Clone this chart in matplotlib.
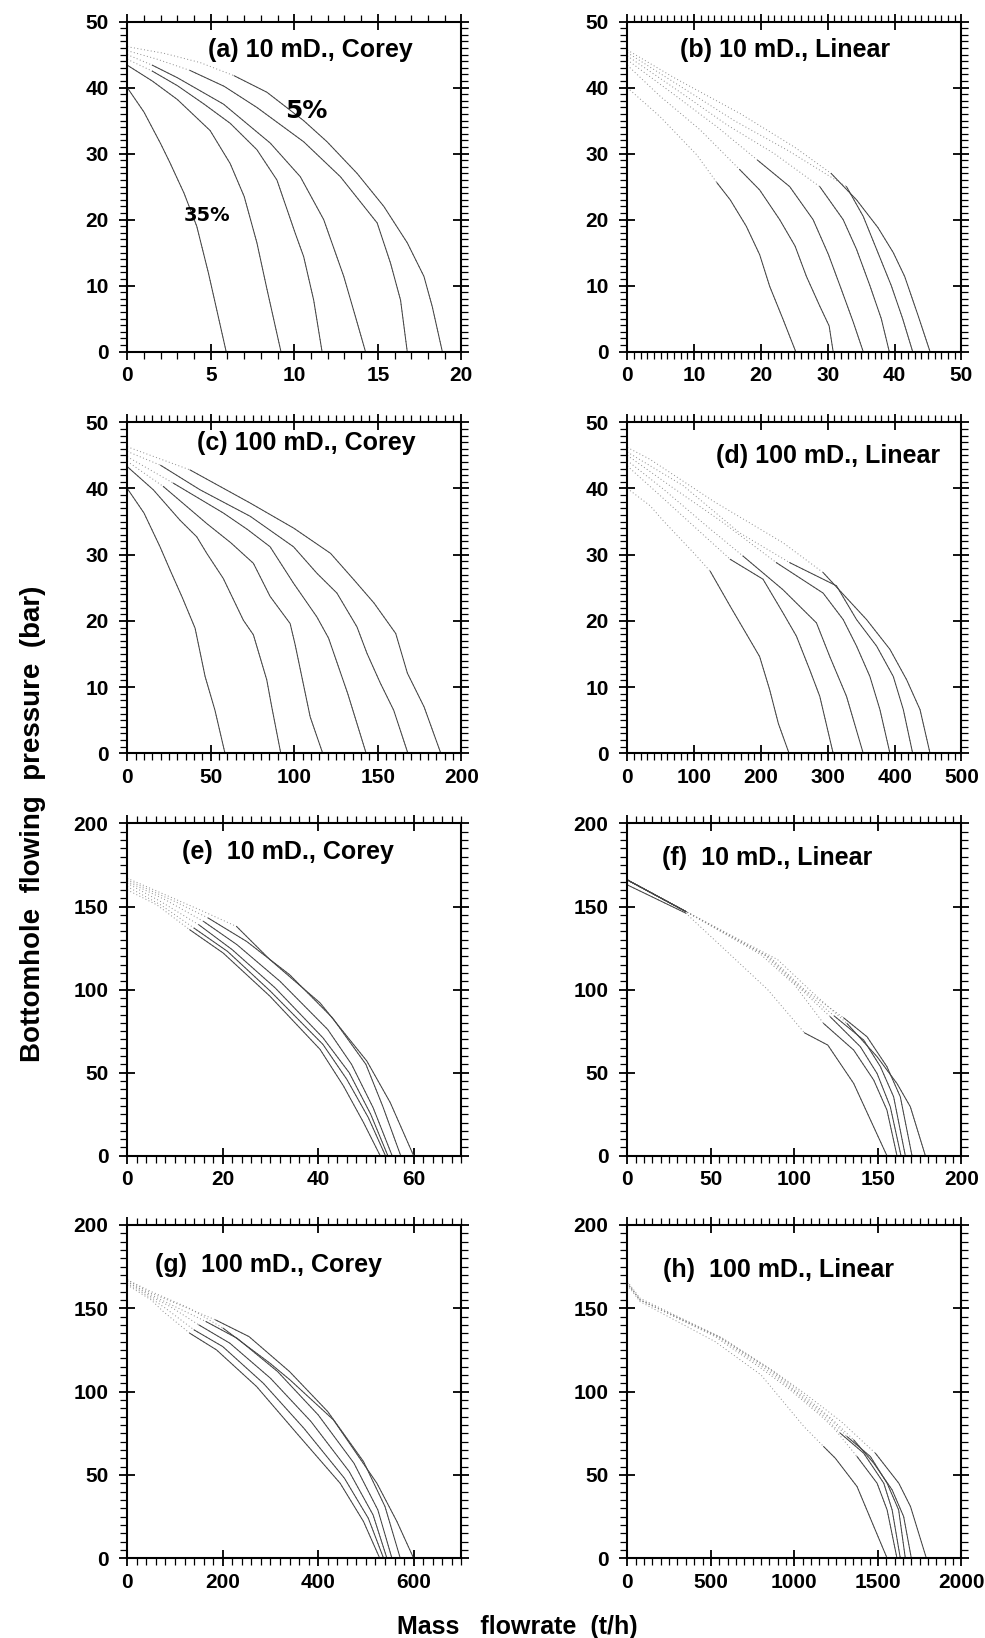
import matplotlib
matplotlib.use("Agg")
import matplotlib.pyplot as plt
import numpy as np
from matplotlib.ticker import MultipleLocator

plt.rcParams['font.family'] = ['Liberation Sans', 'DejaVu Sans']
plt.rcParams['font.weight'] = 'bold'

# ---- data: x = mass flowrate (t/h), p = BHP (bar) ----
# (a) 10 mD, Corey  (curves from 35% to 5%)
a_x = [[0, 1.0, 2.0, 2.56, 3.4, 4.16, 4.86, 5.36, 5.92],
       [0, 1.5, 3.0, 4.96, 6.16, 7.0, 7.76, 8.36, 9.2],
       [0, 1.5, 3.0, 4.6, 6.16, 7.76, 8.96, 10.06, 10.56, 11.16, 11.66],
       [0, 1.5, 3.0, 5.76, 8.56, 10.36, 11.76, 12.96, 13.66, 14.26],
       [0, 1.8, 3.76, 5.8, 7.76, 10.56, 12.76, 14.96, 15.76, 16.36, 16.76],
       [0, 2.2, 4.36, 6.4, 8.36, 10.56, 11.96, 13.76, 15.36, 16.76, 17.76, 18.26, 18.86]]
a_p = [[40, 36.3, 31.5, 28.6, 24.0, 19.0, 11.9, 6.3, 0],
       [43.4, 41.0, 38.2, 33.5, 28.5, 23.5, 16.5, 9.5, 0],
       [44.3, 42.5, 40.3, 37.5, 34.6, 30.6, 26.0, 17.9, 14.4, 7.8, 0],
       [45.0, 43.4, 41.5, 37.5, 31.6, 26.5, 20.0, 11.4, 5.3, 0],
       [45.6, 44.3, 42.6, 40.2, 37.0, 31.8, 26.5, 19.5, 13.4, 7.8, 0],
       [46.2, 45.2, 43.8, 41.8, 39.3, 35.0, 31.8, 27.0, 22.0, 16.5, 11.4, 6.8, 0]]

# (b) 10 mD, Linear
b_x = [[0, 4.9, 10.4, 13.4, 15.4, 17.8, 19.8, 21.3, 23.3, 25.2],
       [0, 4.9, 10.9, 16.8, 19.8, 22.8, 25.1, 26.8, 28.8, 30.2, 30.8],
       [0, 6, 13.5, 19.5, 24.3, 27.8, 30.1, 32.0, 33.8, 35.3],
       [0, 6.5, 15, 22, 28.8, 32.3, 34.3, 36.3, 38.0, 39.2],
       [0, 7, 16, 24, 32.8, 35.3, 37.5, 39.5, 41.2, 42.7],
       [0, 7, 17, 25, 30.5, 34.3, 37.5, 39.8, 41.5, 43.5, 45.3]]
b_p = [[40, 35.6, 29.8, 25.6, 23.0, 19.0, 14.7, 9.9, 4.9, 0],
       [43.4, 38.7, 33.6, 27.6, 24.5, 20.0, 16.0, 11.4, 6.9, 3.9, 0],
       [44.2, 39.7, 34.0, 29.0, 25.0, 20.0, 14.7, 9.5, 4.5, 0],
       [44.8, 40.3, 34.3, 30.0, 25.0, 20.0, 15.5, 10.0, 5.0, 0],
       [45.3, 40.8, 35.0, 30.5, 25.0, 20.5, 15.0, 10.0, 5.0, 0],
       [45.7, 41.5, 36.0, 31.0, 27.0, 23.0, 18.8, 15.0, 11.4, 5.5, 0]]

# (c) 100 mD, Corey
c_x = [[0, 10, 19.6, 25.6, 33, 40.6, 46.6, 52.5, 58.5],
       [0, 15.6, 31.6, 41.6, 47.6, 57.5, 69.5, 75.5, 83.5, 86.5, 91.9],
       [0, 21.6, 47.6, 62, 75.5, 85.5, 97.5, 100.5, 109.5, 117],
       [0, 27.6, 57.5, 72, 85.5, 99.5, 113.5, 120.5, 132, 143],
       [0, 20, 43.6, 73.6, 99.5, 113.5, 125.5, 137.5, 143.5, 151.5, 159.5, 168],
       [0, 37.6, 73.6, 99.7, 121.7, 135.7, 147.7, 160.7, 167.7, 177.7, 187.7]]
c_p = [[40, 36.3, 31.2, 27.7, 23.5, 18.9, 11.6, 6.5, 0],
       [43.3, 39.8, 35.2, 32.7, 30.2, 26.4, 20.1, 17.9, 11.1, 7.0, 0],
       [44.1, 40.3, 34.7, 31.8, 28.7, 23.7, 19.6, 16.4, 5.5, 0],
       [44.8, 40.8, 36.3, 33.8, 31.2, 25.7, 20.6, 17.4, 9.0, 0],
       [45.6, 43.5, 39.8, 35.8, 31.2, 27.2, 24.2, 19.1, 15.1, 10.6, 6.5, 0],
       [46.3, 42.8, 37.8, 34.0, 30.2, 26.2, 22.7, 18.1, 12.1, 7.0, 0]]

# (d) 100 mD, Linear
d_x = [[0, 34, 54, 99, 124, 154, 183, 198, 213, 226, 242],
       [0, 44, 94, 154, 203, 233, 253, 273, 288, 308],
       [0, 54, 119, 173, 233, 283, 303, 328, 353],
       [0, 64, 144, 223, 293, 323, 343, 363, 378, 393],
       [0, 84, 168, 243, 313, 343, 373, 398, 413, 427],
       [0, 34, 130, 233, 293, 358, 393, 418, 438, 453]]
d_p = [[40, 37.4, 35.1, 30.3, 27.5, 22.2, 17.2, 14.6, 9.6, 4.5, 0],
       [43.4, 39.4, 34.8, 29.3, 26.3, 21.2, 17.7, 12.6, 8.6, 0],
       [44.2, 39.9, 34.3, 29.8, 24.7, 19.7, 14.6, 8.6, 0],
       [45.0, 40.4, 34.8, 28.8, 24.2, 20.2, 16.2, 11.6, 6.6, 0],
       [45.5, 40.4, 33.3, 28.8, 25.3, 20.2, 16.2, 11.6, 6.6, 0],
       [46.2, 44.4, 38.0, 31.8, 27.3, 20.2, 15.7, 11.1, 6.6, 0]]

# (e) 10 mD, Corey (high pressure)
e_x = [[0, 6.2, 13.1, 20.1, 29.9, 40.4, 45.3, 49.5, 53.0],
       [0, 7, 14, 21, 30, 41, 46, 50.5, 54.1],
       [0, 7, 15, 22, 31, 41, 46.5, 51, 54.6],
       [0, 8, 16, 23, 32, 42, 47, 51.5, 55.5],
       [0, 10, 17, 25, 34, 43, 50, 53.5, 57.3],
       [0, 15.2, 22.9, 29.9, 40.4, 50.2, 55.1, 60]]
e_p = [[160, 151, 136, 122, 96, 64, 42, 20, 0],
       [162, 151, 137, 123, 99, 67, 46, 23, 0],
       [164, 153, 139, 124, 101, 71, 50, 25, 0],
       [165, 154, 141, 127, 105, 76, 55, 29, 0],
       [166, 153, 143, 129, 109, 83, 55, 30, 0],
       [167, 148, 138, 118, 92, 57, 32, 0]]

# (f) 10 mD, Linear (high pressure)
f_x = [[0, 35, 84, 106, 120, 135.5, 155.4],
       [0, 35, 80, 100, 117.5, 135.5, 147.5, 155.4, 161.4],
       [0, 35, 82, 102, 121.5, 139.5, 149.5, 157.4, 163.8],
       [0, 35, 84, 104, 124, 141.5, 151.5, 159.4, 166.4],
       [0, 35, 86, 106, 129.5, 143.5, 155.4, 163.4, 170.4],
       [0, 35, 90, 110, 131.5, 149.5, 161.4, 169.4, 178.4]]
f_p = [[163, 146, 100, 74, 66.6, 43.5, 0],
       [166, 147, 121, 103, 79.6, 63.6, 45.5, 27.5, 0],
       [166, 147, 121, 102, 83.6, 65.6, 49.5, 29.5, 0],
       [166, 147, 120, 101, 84, 69.6, 53.6, 35.5, 0],
       [166, 147, 119, 100, 83, 71.6, 53.6, 35.5, 0],
       [166, 147, 118, 99, 79.6, 59.6, 43.5, 29.5, 0]]

# (g) 100 mD, Corey (high pressure)
g_x = [[0, 50, 75.5, 131, 187, 271, 355, 446, 495, 529],
       [0, 50, 80, 140, 200, 285, 370, 455, 505, 537],
       [0, 50, 90, 150, 215, 300, 385, 465, 515, 544],
       [0, 50, 100, 165, 230, 315, 400, 475, 525, 554.5],
       [0, 50, 110, 185, 255, 340, 420, 495, 540, 572],
       [0, 50, 130, 201, 299, 341, 432, 523, 565, 600]]
g_p = [[164, 155, 148, 135, 125, 103, 75, 45, 22, 0],
       [165, 156, 150, 137, 127, 105, 78, 48, 24, 0],
       [166, 157, 151, 140, 129, 108, 82, 52, 26, 0],
       [166, 158, 151, 142, 132, 112, 86, 57, 29, 0],
       [167, 159, 152, 143, 133, 112, 88, 58, 31, 0],
       [167, 160, 150, 138, 117, 107, 83, 45, 22, 0]]

# (h) 100 mD, Linear (high pressure)
h_x = [[0, 76, 525, 800, 1057, 1175, 1245, 1375, 1555],
       [0, 76, 525, 800, 975, 1175, 1245, 1375, 1495, 1555, 1614],
       [0, 76, 540, 820, 990, 1190, 1275, 1415, 1535, 1585, 1634],
       [0, 76, 550, 840, 1010, 1210, 1315, 1455, 1555, 1624, 1664],
       [0, 76, 560, 860, 1030, 1230, 1355, 1475, 1585, 1654, 1700],
       [0, 76, 570, 880, 1060, 1280, 1485, 1625, 1695, 1790]]
h_p = [[164, 154, 130, 110, 79, 67, 60, 43, 0],
       [165, 155, 133, 114, 101, 84, 77, 61, 45, 29, 0],
       [165, 155, 133, 114, 101, 84, 75, 63, 45, 29, 0],
       [165, 155, 133, 114, 100, 84, 73, 61, 45, 29, 0],
       [165, 155, 132, 113, 100, 83, 71, 57, 41, 25, 0],
       [166, 156, 132, 112, 99, 82, 63, 45, 31, 0]]

titles = ['(a) 10 mD., Corey', '(b) 10 mD., Linear',
          '(c) 100 mD., Corey', '(d) 100 mD., Linear',
          '(e)  10 mD., Corey', '(f)  10 mD., Linear',
          '(g)  100 mD., Corey', '(h)  100 mD., Linear']
x_max = [20, 50, 200, 500, 70, 200, 700, 2000]
x_major = [5, 10, 50, 100, 20, 50, 200, 500]
x_minor = [1, 1, 5, 10, 2, 5, 20, 50]
y_max = [50, 50, 50, 50, 200, 200, 200, 200]
y_major = [10, 10, 10, 10, 50, 50, 50, 50]
y_minor = [1, 1, 1, 1, 5, 5, 5, 5]

xs = [a_x, b_x, c_x, d_x, e_x, f_x, g_x, h_x]
ps = [a_p, b_p, c_p, d_p, e_p, f_p, g_p, h_p]

# styling: below lo the scanned line looks solid, above it only dotted
solid_lo = [43.5, 29, 43.5, 30, 146, 86, 146, 76]
solid_hi = [None, None, None, None, None, 146, None, None]
title_pos = [(0.547, 0.914), (0.472, 0.914), (0.535, 0.937), (0.601, 0.899),
             (0.48, 0.915), (0.418, 0.895), (0.423, 0.88), (0.453, 0.865)]

fig = plt.figure(figsize=(9.85, 16.38), dpi=100)
lefts = [0.1292, 0.6369]
rows = [(0.7853, 0.2015), (0.5401, 0.2021), (0.2944, 0.2029), (0.0487, 0.2035)]

for i in range(8):
    r, c = divmod(i, 2)
    ax = fig.add_axes([lefts[c], rows[r][0], 0.3392, rows[r][1]])
    for x, p in zip(xs[i], ps[i]):
        x = np.asarray(x, float)
        p = np.asarray(p, float)
        ax.plot(x, p, color='0.55', lw=0.7, ls=(0, (1, 2.5)))
        solid = p <= solid_lo[i]
        if solid_hi[i] is not None:
            solid |= p >= solid_hi[i]
        ax.plot(x, np.where(solid, p, np.nan), color='0.25', lw=0.7)

    ax.set_xlim(0, x_max[i])
    ax.set_ylim(0, y_max[i])
    ax.xaxis.set_major_locator(MultipleLocator(x_major[i]))
    ax.xaxis.set_minor_locator(MultipleLocator(x_minor[i]))
    ax.yaxis.set_major_locator(MultipleLocator(y_major[i]))
    ax.yaxis.set_minor_locator(MultipleLocator(y_minor[i]))
    ax.tick_params(which='major', direction='inout', length=11, width=1.3,
                   top=True, right=True, labelsize=15, pad=5)
    ax.tick_params(which='minor', direction='out', length=5, width=0.9,
                   top=True, right=True)
    ax.tick_params(axis='y', which='major', pad=8)
    for lab in ax.get_xticklabels() + ax.get_yticklabels():
        lab.set_fontweight('bold')
    for s in ax.spines.values():
        s.set_linewidth(1.5)
    ax.text(title_pos[i][0], title_pos[i][1], titles[i], transform=ax.transAxes,
            ha='center', va='center', fontsize=18, fontweight='bold')

    if i == 0:
        ax.text(10.7, 36.4, '5%', fontsize=18, fontweight='bold',
                ha='center', va='center', family=['DejaVu Sans'])
        ax.text(4.76, 20.7, '35%', fontsize=14, fontweight='bold',
                ha='center', va='center', family=['DejaVu Sans'])

fig.text(0.034, 0.497, 'Bottomhole  flowing  pressure  (bar)', rotation=90,
         ha='center', va='center', fontsize=20, fontweight='bold')
fig.text(0.525, 0.0067, 'Mass   flowrate  (t/h)', ha='center', va='center',
         fontsize=18, fontweight='bold')

fig.savefig('out.png', dpi=100)
